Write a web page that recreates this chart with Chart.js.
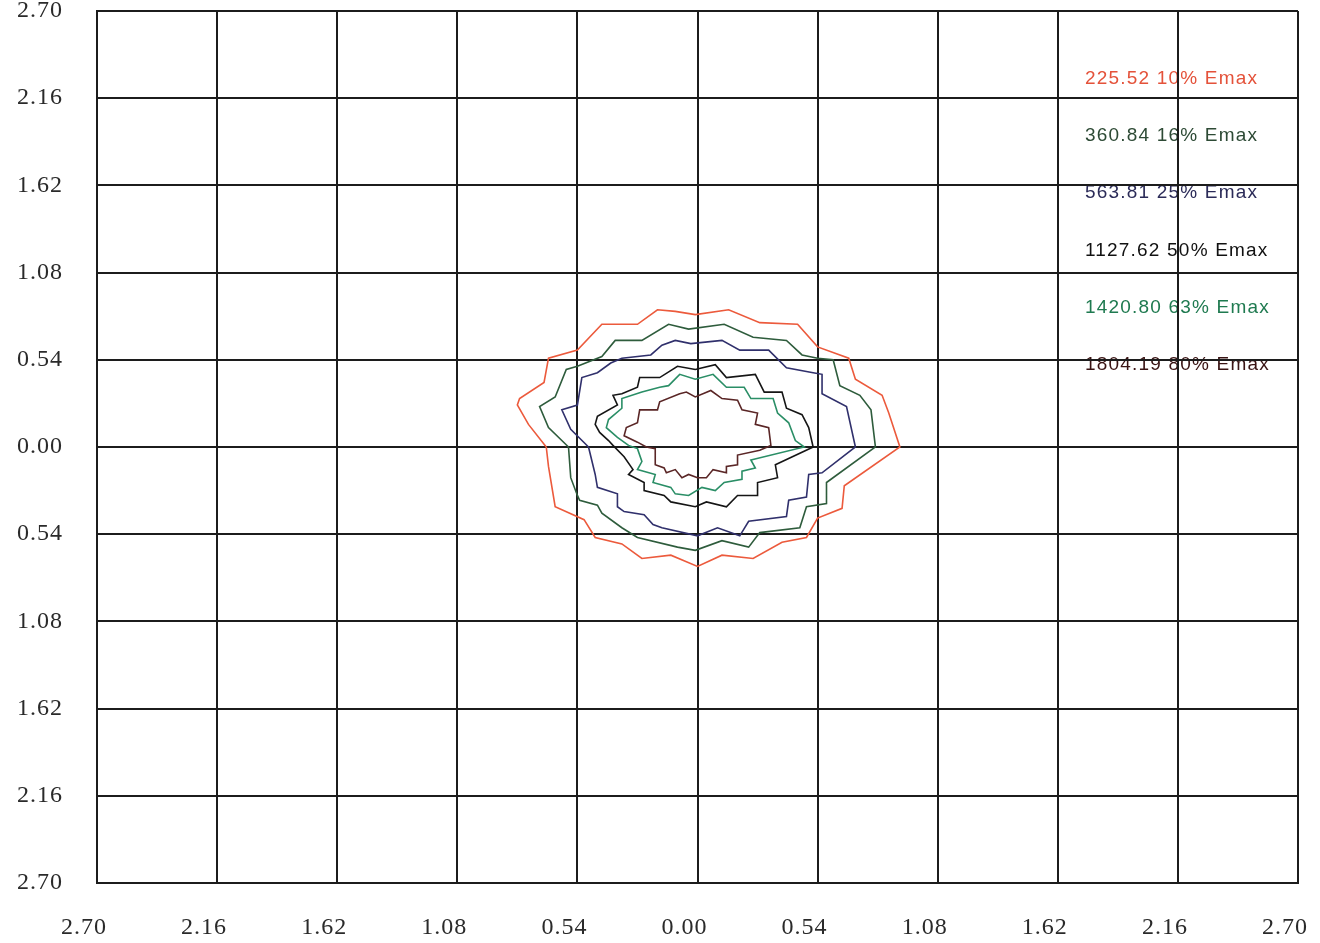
<!DOCTYPE html>
<html><head><meta charset="utf-8">
<script src="https://cdn.jsdelivr.net/npm/chart.js@4.4.0/dist/chart.umd.min.js"></script>
<style>html,body{margin:0;padding:0;background:#fff;} #wrap{width:1320px;height:943px;}</style>
</head><body><div id="wrap"><canvas id="c" width="1320" height="943"></canvas></div>
<script>
// Axis ticks (metres) and their printed labels
const tickValues = [-2.70,-2.16,-1.62,-1.08,-0.54,0.00,0.54,1.08,1.62,2.16,2.70];
const tickLabels = ['2.70','2.16','1.62','1.08','0.54','0.00','0.54','1.08','1.62','2.16','2.70'];

// Isolux series names
const seriesNames = ['225.52 10% Emax','360.84 16% Emax','563.81 25% Emax','1127.62 50% Emax','1420.80 63% Emax','1804.19 80% Emax'];

// Contour 225.52 lx (10% Emax)
const c10X = [-0.68,-0.76,-0.81,-0.80,-0.69,-0.67,-0.54,-0.43,-0.27,-0.18,-0.10,-0.01,0.14,0.28,0.45,0.54,0.68,0.71,0.83,0.86,0.91,0.66,0.65,0.54,0.49,0.38,0.25,0.11,0.00,-0.12,-0.25,-0.34,-0.46,-0.51,-0.64,-0.67];
const c10Y = [0.00,0.14,0.26,0.30,0.40,0.55,0.60,0.76,0.76,0.85,0.84,0.82,0.85,0.77,0.76,0.62,0.55,0.42,0.32,0.21,0.00,-0.24,-0.38,-0.44,-0.56,-0.59,-0.69,-0.67,-0.74,-0.67,-0.69,-0.60,-0.56,-0.45,-0.37,-0.12];

// Contour 360.84 lx (16% Emax)
const c16X = [-0.58,-0.67,-0.71,-0.64,-0.59,-0.54,-0.43,-0.37,-0.25,-0.13,-0.04,0.12,0.25,0.40,0.47,0.54,0.61,0.64,0.73,0.78,0.80,0.58,0.58,0.49,0.46,0.28,0.23,0.11,-0.01,-0.09,-0.27,-0.34,-0.43,-0.45,-0.53,-0.54,-0.57];
const c16Y = [0.00,0.12,0.25,0.31,0.48,0.50,0.56,0.66,0.66,0.76,0.73,0.76,0.68,0.66,0.57,0.55,0.54,0.38,0.32,0.23,0.00,-0.22,-0.35,-0.37,-0.50,-0.53,-0.62,-0.58,-0.64,-0.62,-0.56,-0.50,-0.41,-0.36,-0.33,-0.30,-0.19];

// Contour 563.81 lx (25% Emax)
const c25X = [-0.49,-0.57,-0.61,-0.54,-0.52,-0.45,-0.39,-0.34,-0.21,-0.16,-0.10,-0.03,0.11,0.19,0.32,0.40,0.52,0.56,0.56,0.67,0.71,0.56,0.50,0.49,0.41,0.40,0.23,0.19,0.09,0.00,-0.16,-0.20,-0.24,-0.33,-0.36,-0.36,-0.45,-0.46];
const c25Y = [0.00,0.11,0.23,0.26,0.43,0.46,0.52,0.55,0.57,0.63,0.66,0.64,0.66,0.60,0.60,0.49,0.46,0.45,0.33,0.25,0.00,-0.16,-0.17,-0.31,-0.33,-0.43,-0.46,-0.55,-0.50,-0.55,-0.50,-0.48,-0.42,-0.40,-0.37,-0.29,-0.25,-0.17];

// Contour 1127.62 lx (50% Emax)
const c50X = [-0.38,-0.40,-0.44,-0.46,-0.45,-0.36,-0.38,-0.34,-0.27,-0.26,-0.17,-0.09,-0.01,0.08,0.13,0.26,0.30,0.38,0.40,0.47,0.50,0.52,0.35,0.36,0.27,0.27,0.18,0.13,0.04,-0.01,-0.12,-0.15,-0.24,-0.24,-0.31,-0.29,-0.33];
const c50Y = [0.01,0.04,0.09,0.14,0.19,0.26,0.32,0.33,0.37,0.43,0.43,0.50,0.48,0.51,0.43,0.45,0.34,0.34,0.24,0.20,0.12,0.00,-0.11,-0.19,-0.22,-0.30,-0.30,-0.37,-0.34,-0.37,-0.34,-0.30,-0.27,-0.22,-0.17,-0.14,-0.06];

// Contour 1420.80 lx (63% Emax)
const c63X = [-0.31,-0.36,-0.41,-0.40,-0.34,-0.34,-0.25,-0.17,-0.13,-0.08,-0.01,0.07,0.13,0.21,0.24,0.34,0.36,0.41,0.44,0.48,0.24,0.26,0.20,0.20,0.12,0.08,0.02,-0.04,-0.10,-0.12,-0.20,-0.19,-0.27,-0.25,-0.27];
const c63Y = [0.01,0.06,0.12,0.17,0.24,0.30,0.34,0.37,0.38,0.45,0.42,0.45,0.37,0.37,0.30,0.30,0.21,0.15,0.04,0.00,-0.08,-0.13,-0.15,-0.20,-0.22,-0.27,-0.25,-0.30,-0.29,-0.25,-0.22,-0.17,-0.14,-0.09,-0.01];

// Contour 1804.19 lx (80% Emax)
const c80X = [-0.23,-0.27,-0.33,-0.32,-0.27,-0.26,-0.18,-0.17,-0.08,-0.05,-0.01,0.06,0.11,0.18,0.20,0.27,0.26,0.32,0.33,0.28,0.18,0.18,0.13,0.13,0.07,0.04,0.00,-0.04,-0.07,-0.10,-0.14,-0.15,-0.19,-0.19];
const c80Y = [0.00,0.03,0.07,0.12,0.15,0.23,0.23,0.28,0.33,0.34,0.31,0.35,0.30,0.29,0.23,0.21,0.14,0.12,0.01,-0.02,-0.05,-0.11,-0.12,-0.16,-0.14,-0.19,-0.19,-0.17,-0.19,-0.14,-0.16,-0.13,-0.11,-0.01];

const lineColors = ['#ec5a3c','#2e5c3c','#30306c','#151515','#2a8e66','#5a2626'];
const textColors = ['#e4523a','#2d4a35','#2b2b58','#111111','#1f7a50','#3a1414'];

const contourX = [c10X,c16X,c25X,c50X,c63X,c80X];
const contourY = [c10Y,c16Y,c25Y,c50Y,c63Y,c80Y];

const datasets = contourX.map((xs, k) => {
  const pts = xs.map((x, i) => ({x: x, y: contourY[k][i]}));
  pts.push({x: xs[0], y: contourY[k][0]});
  return {
    label: seriesNames[k],
    data: pts,
    showLine: true,
    borderColor: lineColors[k],
    backgroundColor: lineColors[k],
    borderWidth: 1.6,
    pointRadius: 0,
    pointHoverRadius: 0,
    tension: 0,
    fill: false
  };
});

const isoLabels = {
  id: 'isoLabels',
  beforeDraw(chart) {
    const {ctx, chartArea: a} = chart;
    ctx.save();
    ctx.fillStyle = '#ffffff';
    ctx.fillRect(0, 0, chart.width, chart.height);
    ctx.font = '19px "Liberation Sans", Arial, sans-serif';
    ctx.letterSpacing = '1.2px';
    ctx.textBaseline = 'middle';
    ctx.textAlign = 'left';
    const w = a.right - a.left, h = a.bottom - a.top;
    const x0 = a.left + w * 0.8226;
    seriesNames.forEach((n, i) => {
      ctx.fillStyle = textColors[i];
      ctx.fillText(n, x0, a.top + h * (0.078 + i * 0.0655));
    });
    ctx.restore();
    // slightly wider spacing for the serif tick labels (stretched look of the original)
    ctx.letterSpacing = '1px';
  }
};

function setTicks(scale) {
  scale.ticks = tickValues.map(v => ({value: v}));
}

const tickFont = {family: '"Liberation Serif", "Times New Roman", serif', size: 24};

new Chart(document.getElementById('c'), {
  type: 'scatter',
  data: {datasets},
  options: {
    responsive: false,
    animation: false,
    events: [],
    layout: {padding: {top: 11, right: 22, left: 0, bottom: 0}},
    plugins: {legend: {display: false}, tooltip: {enabled: false}},
    scales: {
      x: {
        type: 'linear', min: -2.7, max: 2.7,
        afterBuildTicks: setTicks,
        afterFit: s => { s.height = 60; s.paddingLeft = 0; s.paddingRight = 0; },
        grid: {color: '#1c1c1c', lineWidth: 2, drawTicks: false},
        border: {display: true, color: '#1c1c1c', width: 2},
        ticks: {autoSkip: false, maxRotation: 0, padding: 30, labelOffset: -13, color: '#2a2a2a', font: tickFont,
                callback: (v, i) => tickLabels[i]}
      },
      y: {
        type: 'linear', min: -2.7, max: 2.7,
        afterBuildTicks: setTicks,
        afterFit: s => { s.width = 97; s.paddingTop = 0; s.paddingBottom = 0; },
        grid: {color: '#1c1c1c', lineWidth: 2, drawTicks: false},
        border: {display: true, color: '#1c1c1c', width: 2},
        ticks: {autoSkip: false, padding: 34, color: '#2a2a2a', font: tickFont,
                callback: (v, i) => tickLabels[i]}
      }
    }
  },
  plugins: [isoLabels]
});
</script>
</body></html>
